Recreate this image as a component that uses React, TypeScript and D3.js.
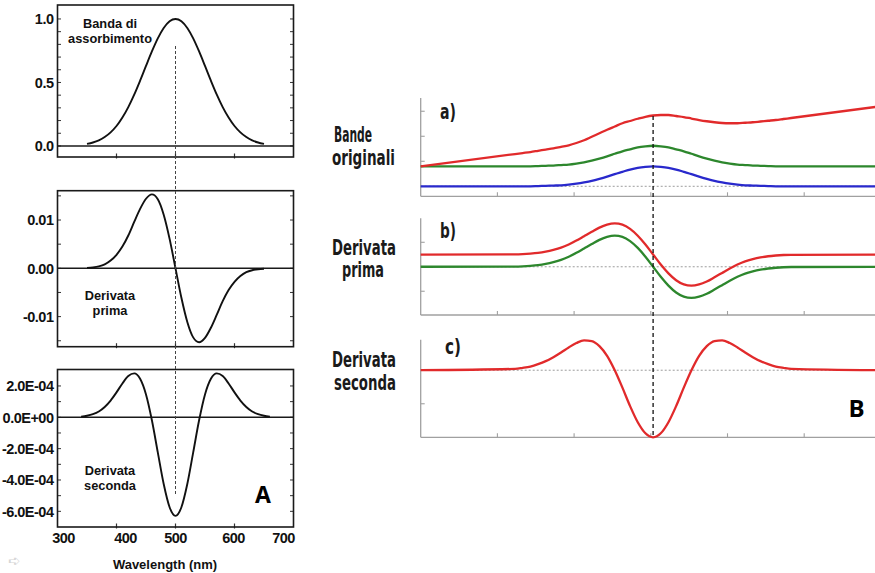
import React from "react";
import * as d3 from "d3";

const W = 875;
const H = 573;

// ---------- A: one absorption band (nm grid) and its derivatives ----------
const bandWl = [350, 360, 370, 380, 390, 400, 410, 420, 430, 440, 450, 460, 470, 480, 490, 500,
  510, 520, 530, 540, 550, 560, 570, 580, 590, 600, 610, 620, 630, 640, 650];
const bandAbsorbance = [0.016, 0.027, 0.044, 0.07, 0.107, 0.157, 0.224, 0.306, 0.404, 0.514, 0.63, 0.744, 0.847, 0.929, 0.982, 1.0,
  0.982, 0.929, 0.847, 0.744, 0.63, 0.514, 0.404, 0.306, 0.224, 0.157, 0.107, 0.07, 0.044, 0.027, 0.016];
const firstDerivative = [0.0001, 0.0002, 0.0004, 0.0008, 0.0016, 0.0028, 0.0045, 0.0068, 0.0096, 0.0123, 0.0144, 0.0153, 0.0143, 0.0111, 0.0061, 0,
  -0.0061, -0.0111, -0.0143, -0.0153, -0.0144, -0.0123, -0.0096, -0.0068, -0.0045, -0.0028, -0.0016, -0.0008, -0.0004, -0.0002, -0.0001];
const secondWl = [340, 350, 360, 370, 380, 390, 400, 410, 420, 430, 440, 450, 460, 470, 480, 490, 500,
  510, 520, 530, 540, 550, 560, 570, 580, 590, 600, 610, 620, 630, 640, 650, 660];
const secondDerivative = [0.04e-4, 0.1e-4, 0.2e-4, 0.37e-4, 0.66e-4, 1.07e-4, 1.59e-4, 2.16e-4, 2.63e-4, 2.8e-4, 2.46e-4, 1.46e-4, -0.19e-4, -2.24e-4, -4.26e-4, -5.74e-4, -6.29e-4,
  -5.74e-4, -4.26e-4, -2.24e-4, -0.19e-4, 1.46e-4, 2.46e-4, 2.8e-4, 2.63e-4, 2.16e-4, 1.59e-4, 1.07e-4, 0.66e-4, 0.37e-4, 0.2e-4, 0.1e-4, 0.04e-4];

const wavelengthTicks = [300, 400, 500, 600, 700];
const absTicks = [0, 0.5, 1.0];
const absTickLabels = ["0.0", "0.5", "1.0"];
const firstTicks = [-0.01, 0, 0.01];
const firstTickLabels = ["-0.01", "0.00", "0.01"];
const secondTicks = [-6e-4, -4e-4, -2e-4, 0, 2e-4];
const secondTickLabels = ["-6.0E-04", "-4.0E-04", "-2.0E-04", "0.0E+00", "2.0E-04"];

// ---------- B: overlapping bands (arbitrary abscissa units) ----------
const bPos = [0, 1.23, 1.33, 1.43, 1.53, 1.63, 1.73, 1.83, 1.93, 2.03, 2.13, 2.23, 2.33, 2.43, 2.53, 2.63, 2.73, 2.83, 2.93, 3.03,
  3.13, 3.23, 3.33, 3.43, 3.53, 3.63, 3.73, 3.83, 3.93, 4.03, 4.13, 4.23, 4.33, 4.43, 4.53, 4.63, 4.73, 4.83, 6];
const origBlue = [0, 0, 0, 0, 0.01, 0.02, 0.03, 0.04, 0.07, 0.11, 0.16, 0.22, 0.3, 0.39, 0.49, 0.58, 0.67, 0.74, 0.78, 0.8,
  0.78, 0.74, 0.67, 0.58, 0.49, 0.39, 0.3, 0.22, 0.16, 0.11, 0.07, 0.04, 0.03, 0.02, 0.01, 0, 0, 0, 0];
const origGreen = [0.8, 0.8, 0.8, 0.8, 0.81, 0.82, 0.83, 0.85, 0.87, 0.91, 0.96, 1.03, 1.11, 1.2, 1.3, 1.4, 1.48, 1.56, 1.6, 1.62,
  1.6, 1.56, 1.48, 1.4, 1.3, 1.2, 1.11, 1.03, 0.96, 0.91, 0.87, 0.85, 0.83, 0.82, 0.81, 0.8, 0.8, 0.8, 0.8];
const origRed = [0.8, 1.29, 1.33, 1.37, 1.42, 1.47, 1.52, 1.58, 1.64, 1.73, 1.84, 1.98, 2.12, 2.26, 2.39, 2.52, 2.61, 2.7, 2.78, 2.83,
  2.85, 2.85, 2.81, 2.77, 2.71, 2.65, 2.6, 2.56, 2.53, 2.52, 2.52, 2.54, 2.56, 2.59, 2.62, 2.65, 2.69, 2.73, 3.2];
const d1Green = [0, 0.01, 0.02, 0.04, 0.07, 0.12, 0.19, 0.28, 0.41, 0.57, 0.75, 0.93, 1.1, 1.22, 1.27, 1.22, 1.05, 0.77, 0.41, 0,
  -0.41, -0.77, -1.05, -1.22, -1.27, -1.22, -1.1, -0.93, -0.75, -0.57, -0.41, -0.28, -0.19, -0.12, -0.07, -0.04, -0.02, -0.01, 0];
const d1Red = [0.5, 0.51, 0.52, 0.54, 0.57, 0.62, 0.69, 0.78, 0.91, 1.07, 1.25, 1.43, 1.6, 1.72, 1.77, 1.72, 1.55, 1.27, 0.91, 0.5,
  0.09, -0.27, -0.55, -0.72, -0.77, -0.72, -0.6, -0.43, -0.25, -0.07, 0.09, 0.22, 0.31, 0.38, 0.43, 0.46, 0.48, 0.49, 0.5];
const d2Red = [0, 0.04, 0.07, 0.11, 0.18, 0.27, 0.39, 0.53, 0.68, 0.81, 0.89, 0.87, 0.72, 0.43, 0, -0.52, -1.07, -1.55, -1.88, -2.0,
  -1.88, -1.55, -1.07, -0.52, 0, 0.43, 0.72, 0.87, 0.89, 0.81, 0.68, 0.53, 0.39, 0.27, 0.18, 0.11, 0.07, 0.04, 0];
const bCenter = 3.03;
const bXTicks = [1, 2, 3, 4, 5, 6];

const RED = "#e12a2b";
const GREEN = "#2d872d";
const BLUE = "#2929cc";

const labelFont = "'Liberation Sans', Arial, sans-serif";
const noteFont = "'Open Sans', 'Noto Sans', sans-serif";
const narrowFont = "'DejaVu Sans Condensed', 'Liberation Sans Narrow', 'DejaVu Sans', sans-serif";

// x scale shared by the three stacked spectra of A
const xA = d3.scaleLinear().domain([300, 700]).range([57.5, 293.5]);

type FrameProps = {
  y: d3.ScaleLinear<number, number>;
  top: number;
  bottom: number;
  minor: number[];
  ticks: number[];
  tickLabels: string[];
  xs: number[];
  ys: number[];
};

function FramedSpectrum({ y, top, bottom, minor, ticks, tickLabels, xs, ys }: FrameProps) {
  const x0 = xA.range()[0];
  const x1 = xA.range()[1];
  const line = d3
    .line<number>()
    .x((_, i) => xA(xs[i]))
    .y((v) => y(v))
    .curve(d3.curveMonotoneX);
  return (
    <g>
      {minor.map((v) => (
        <g key={"m" + v} stroke="#333" strokeWidth={1}>
          <line x1={x0} x2={x0 + 3.5} y1={y(v)} y2={y(v)} />
          <line x1={x1 - 3.5} x2={x1} y1={y(v)} y2={y(v)} />
        </g>
      ))}
      {[400, 500, 600].map((v) => (
        <line key={"b" + v} x1={xA(v)} x2={xA(v)} y1={bottom - 3.5} y2={bottom + 1.5} stroke="#333" strokeWidth={1.2} />
      ))}
      <line x1={x0} x2={x1} y1={y(0)} y2={y(0)} stroke="#1a1a1a" strokeWidth={1.6} />
      <path d={line(ys) || ""} fill="none" stroke="#111" strokeWidth={1.9} />
      <rect x={x0} y={top} width={x1 - x0} height={bottom - top} fill="none" stroke="#1a1a1a" strokeWidth={1.6} />
      {ticks.map((v, i) => (
        <text
          key={"t" + v}
          x={53.5}
          y={y(v)}
          dy="0.36em"
          textAnchor="end"
          fontFamily={labelFont}
          fontWeight="bold"
          fontSize={14.5}
          letterSpacing={-0.5}
          fill="#111"
        >
          {tickLabels[i]}
        </text>
      ))}
    </g>
  );
}

type BPanelProps = {
  top: number;
  bottom: number;
  domain: [number, number];
  yTicks: number[];
  series: { values: number[]; color: string }[];
  tag: string;
  tagX: number;
  tagY: number;
};

const xB = d3.scaleLinear().domain([0, 6]).range([420.7, 880.9]);

function BPanel({ top, bottom, domain, yTicks, series, tag, tagX, tagY }: BPanelProps) {
  const y = d3.scaleLinear().domain(domain).range([bottom, top]);
  const x0 = xB(0);
  const line = d3
    .line<number>()
    .x((_, i) => xB(bPos[i]))
    .y((v) => y(v))
    .curve(d3.curveMonotoneX);
  return (
    <g>
      <line x1={x0} x2={W} y1={y(0)} y2={y(0)} stroke="#9c9c9c" strokeWidth={1} strokeDasharray="2,2" />
      <line x1={x0} x2={x0} y1={top} y2={bottom} stroke="#a0a0a0" strokeWidth={1.3} />
      <line x1={x0} x2={W} y1={bottom} y2={bottom} stroke="#a0a0a0" strokeWidth={1.3} />
      {bXTicks.map((v) => (
        <line key={v} x1={xB(v)} x2={xB(v)} y1={bottom} y2={bottom - 4} stroke="#a0a0a0" strokeWidth={1.1} />
      ))}
      {yTicks.map((v) => (
        <line key={v} x1={x0} x2={x0 + 4} y1={y(v)} y2={y(v)} stroke="#a0a0a0" strokeWidth={1.1} />
      ))}
      {series.map((s, i) => (
        <path key={i} d={line(s.values) || ""} fill="none" stroke={s.color} strokeWidth={2.3} strokeLinejoin="round" />
      ))}
      <text
        x={tagX}
        y={tagY}
        fontFamily={narrowFont}
        fontWeight="bold"
        fontSize={21}
        textLength={16}
        lengthAdjust="spacingAndGlyphs"
        fill="#1a1a1a"
      >
        {tag}
      </text>
    </g>
  );
}

function SideLabel({ x, y, text, len }: { x: number; y: number; text: string; len: number }) {
  return (
    <text
      x={x}
      y={y}
      fontFamily={narrowFont}
      fontWeight="bold"
      fontSize={21}
      textLength={len}
      lengthAdjust="spacingAndGlyphs"
      fill="#1a1a1a"
    >
      {text}
    </text>
  );
}

export default function App() {
  const yAbs = d3.scaleLinear().domain([-0.087, 1.11]).range([157, 5]);
  const yFirst = d3.scaleLinear().domain([-0.01623, 0.01607]).range([346.7, 190.7]);
  const ySecond = d3.scaleLinear().domain([-7.0e-4, 3.05e-4]).range([527, 369.5]);

  const absMinor = d3.range(0, 10.5).map((k) => k / 10);
  const firstMinor = d3.range(-3, 3.5).map((k) => k * 0.005);
  const secondMinor = d3.range(-6, 2.5).map((k) => k * 1e-4);

  const labelNudge = [6, 9, 0, -1, -10];

  return (
    <svg
      width={W}
      height={H}
      viewBox={`0 0 ${W} ${H}`}
      style={{ position: "absolute", left: 0, top: 0, background: "#fff" }}
    >
      <rect x={0} y={0} width={W} height={H} fill="#fff" />

      {/* ---------------- A ---------------- */}
      <FramedSpectrum y={yAbs} top={5} bottom={157} minor={absMinor} ticks={absTicks} tickLabels={absTickLabels} xs={bandWl} ys={bandAbsorbance} />
      <FramedSpectrum y={yFirst} top={190.7} bottom={346.7} minor={firstMinor} ticks={firstTicks} tickLabels={firstTickLabels} xs={bandWl} ys={firstDerivative} />
      <FramedSpectrum y={ySecond} top={369.5} bottom={527} minor={secondMinor} ticks={secondTicks} tickLabels={secondTickLabels} xs={secondWl} ys={secondDerivative} />

      <line x1={xA(500)} x2={xA(500)} y1={46} y2={495} stroke="#444" strokeWidth={1} strokeDasharray="3,2" />

      {wavelengthTicks.map((v, i) => (
        <text
          key={v}
          x={xA(v) + labelNudge[i]}
          y={543}
          textAnchor="middle"
          fontFamily={labelFont}
          fontWeight="bold"
          fontSize={14.5}
          letterSpacing={-0.6}
          fill="#111"
        >
          {v}
        </text>
      ))}
      <text x={165} y={569} textAnchor="middle" fontFamily={labelFont} fontWeight="bold" fontSize={13} fill="#111">
        Wavelength (nm)
      </text>

      <g fontFamily={labelFont} fontWeight="bold" fontSize={12.8} fill="#111" textAnchor="middle">
        <text x={110} y={28}>Banda di</text>
        <text x={110} y={43}>assorbimento</text>
        <text x={110} y={300}>Derivata</text>
        <text x={110} y={315}>prima</text>
        <text x={110} y={475}>Derivata</text>
        <text x={110} y={490}>seconda</text>
      </g>
      <text x={263} y={503} textAnchor="middle" fontFamily={noteFont} fontWeight={700} fontSize={23} fill="#000">
        A
      </text>
      <text x={8} y={566} fontFamily="'DejaVu Sans', sans-serif" fontSize={15} fill="#d6d6d6">
        ➪
      </text>

      {/* ---------------- B ---------------- */}
      <BPanel
        top={98}
        bottom={196.3}
        domain={[-0.4, 3.53]}
        yTicks={[1, 2, 3]}
        series={[
          { values: origBlue, color: BLUE },
          { values: origGreen, color: GREEN },
          { values: origRed, color: RED },
        ]}
        tag="a)"
        tagX={440}
        tagY={119}
      />
      <BPanel
        top={218.3}
        bottom={315}
        domain={[-1.97, 1.98]}
        yTicks={[-1, 1]}
        series={[
          { values: d1Green, color: GREEN },
          { values: d1Red, color: RED },
        ]}
        tag="b)"
        tagX={440}
        tagY={238}
      />
      <BPanel
        top={339.7}
        bottom={437.3}
        domain={[-2.0, 0.91]}
        yTicks={[-1]}
        series={[{ values: d2Red, color: RED }]}
        tag="c)"
        tagX={445}
        tagY={354}
      />

      <line x1={xB(bCenter)} x2={xB(bCenter)} y1={116} y2={437.3} stroke="#111" strokeWidth={1.3} strokeDasharray="4,3" />

      <SideLabel x={334} y={142} text="Bande" len={38} />
      <SideLabel x={332} y={165} text="originali" len={63} />
      <SideLabel x={332} y={255} text="Derivata" len={64} />
      <SideLabel x={342} y={277} text="prima" len={42} />
      <SideLabel x={332} y={367} text="Derivata" len={64} />
      <SideLabel x={334} y={390} text="seconda" len={62} />

      <text x={856.5} y={417} textAnchor="middle" fontFamily={noteFont} fontWeight={700} fontSize={24} fill="#000">
        B
      </text>
    </svg>
  );
}
